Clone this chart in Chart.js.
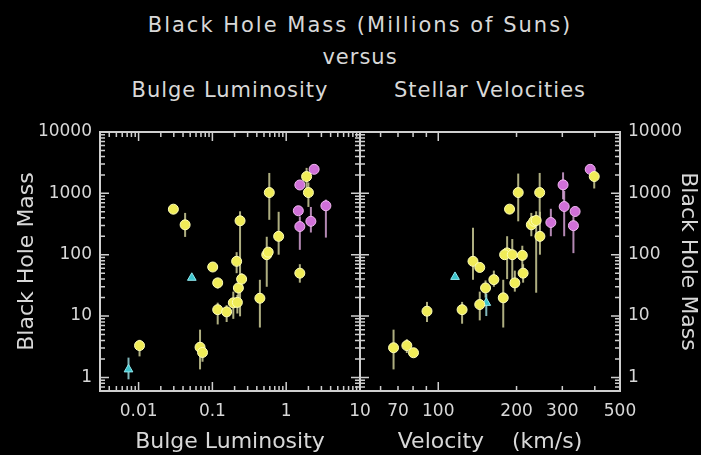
<!DOCTYPE html>
<html>
<head>
<meta charset="utf-8">
<title>Black Hole Mass versus Bulge Luminosity and Stellar Velocities</title>
<script src="https://cdn.jsdelivr.net/npm/chart.js@4.4.1/dist/chart.umd.min.js"></script>
<style>
  html, body { margin: 0; padding: 0; background: #000; }
  #wrap {
    position: relative; width: 701px; height: 455px; overflow: hidden;
    font-family: "DejaVu Sans", sans-serif; color: #d8d8d8;
  }
  #wrap canvas { position: absolute; left: 0; top: 0; }
  .label {
    position: absolute; white-space: nowrap; transform: translate(-50%, -50%);
    font-size: 21px; letter-spacing: 1px;
  }
  .label.main { letter-spacing: 2px; }
</style>
</head>
<body>
<div id="wrap">
  <div class="label main" style="left:360px; top:25px;">Black Hole Mass (Millions of Suns)</div>
  <div class="label" style="left:360px; top:57px;">versus</div>
  <div class="label" style="left:230px; top:90px;">Bulge Luminosity</div>
  <div class="label" style="left:490px; top:90px;">Stellar Velocities</div>
  <canvas id="lumChart" width="701" height="455"></canvas>
  <canvas id="velChart" width="701" height="455"></canvas>
</div>
<script>
// ---- left panel: bulge luminosity ----
const lumYellowX    = [0.0103, 0.0296, 0.0427, 0.068, 0.0735, 0.101, 0.118, 0.118, 0.156, 0.192, 0.218, 0.213, 0.225, 0.249, 0.237, 0.44, 0.545, 0.57, 0.59, 0.79, 1.89, 2.0, 1.53];
const lumYellowMass = [3.3, 552, 307, 3.1, 2.55, 63, 34.7, 12.7, 11.7, 16.4, 16.7, 78, 28.7, 40, 357, 19.5, 100, 110, 1030, 199, 1880, 1030, 50];
const lumYellowLow  = [2.2, null, 195, 1.35, 1.8, null, 28, 7.3, 8, 9, 11, 50, 20, 32, 9.9, 6.5, 30, null, 370, 100, 1200, 600, 35];
const lumYellowHigh = [4.1, null, 480, 6, 3.5, null, 42, 16.5, 15, 25, 22, 110, 35, 50, 510, 39, 196, null, 2150, 500, 2600, 1500, 70];

const lumMagentaX    = [1.53, 2.39, 1.46, 1.53, 2.16, 3.45];
const lumMagentaMass = [1370, 2466, 520, 288, 350, 627];
const lumMagentaLow  = [null, null, null, 120, 230, 190];
const lumMagentaHigh = [null, null, null, 420, 600, 790];

const lumCyanX    = [0.0073, 0.0526];
const lumCyanMass = [1.35, 42];
const lumCyanLow  = [0.93, null];
const lumCyanHigh = [2.1, null];

// ---- right panel: stellar velocity (km/s) ----
const velYellowX    = [67.3, 75.7, 80.3, 90.5, 123.5, 136, 144.4, 152, 144.4, 163.6, 177.8, 184, 180, 192.6, 188, 197, 203, 210.5, 212, 228, 233, 238, 245.5, 246, 398];
const velYellowMass = [3.04, 3.3, 2.52, 12, 12.7, 78, 62, 28.7, 15.4, 39.2, 19.8, 107, 100, 100, 553, 34.7, 1030, 97.5, 50, 307, 350, 361, 1030, 199, 1880];
const velYellowLow  = [1.35, 2.5, null, 8, 7.5, 39, null, 20, 8.5, 30, 6.5, 40, null, 30, null, 25, 350, 60, 35, 200, null, 24, 370, 100, 1200];
const velYellowHigh = [6, 4.2, null, 17, 17, 275, null, 38, 25, 55, 39, 200, null, 180, null, 55, 2100, 140, 70, 480, null, 510, 2150, 500, 2600];

const velMagentaX    = [271, 302, 305, 336, 331, 384];
const velMagentaMass = [335, 1375, 610, 506, 297, 2466];
const velMagentaLow  = [200, 800, 200, null, 106, null];
const velMagentaHigh = [560, 2200, 1100, null, 420, null];

const velCyanX    = [116, 153];
const velCyanMass = [43.4, 16.4];
const velCyanLow  = [null, 10];
const velCyanHigh = [null, 23];

// ---- axes ----
const massTicks = [1, 10, 100, 1000, 10000];
const massTickLabels = ["1", "10", "100", "1000", "10000"];
const lumTicks = [0.01, 0.1, 1, 10];
const lumTickLabels = ["0.01", "0.1", "1", "10"];
const velTicks = [70, 100, 200, 300, 500];
const velTickLabels = ["70", "100", "200", "300", "500"];

const textColor = "#d8d8d8";
const fontFamily = "'DejaVu Sans', sans-serif";

function toPoints(xs, ys) {
  return xs.map((x, i) => ({ x: x, y: ys[i] }));
}

function logSteps(min, max) {
  const out = [];
  const lo = Math.floor(Math.log10(min));
  const hi = Math.ceil(Math.log10(max));
  for (let e = lo; e <= hi; e++) {
    for (let m = 1; m <= 9; m++) {
      const v = m * Math.pow(10, e);
      if (v >= min * 0.999 && v <= max * 1.001) out.push({ v: v, major: m === 1 });
    }
  }
  return out;
}

// box round the plot area with inward ticks on all four sides
const frameTicks = {
  id: "frameTicks",
  beforeDatasetsDraw(chart) {
    const { ctx, chartArea: a, scales } = chart;
    const xs = scales.x, ys = scales.y;
    ctx.save();
    ctx.strokeStyle = "#cfcfcf";
    ctx.lineWidth = 2;
    ctx.strokeRect(a.left, a.top, a.right - a.left, a.bottom - a.top);
    ctx.lineWidth = 1.5;
    ctx.beginPath();
    logSteps(xs.min, xs.max).forEach((t) => {
      const px = xs.getPixelForValue(t.v);
      const len = t.major ? 9 : 5;
      ctx.moveTo(px, a.bottom); ctx.lineTo(px, a.bottom - len);
      ctx.moveTo(px, a.top); ctx.lineTo(px, a.top + len);
    });
    logSteps(ys.min, ys.max).forEach((t) => {
      const py = ys.getPixelForValue(t.v);
      const len = t.major ? 9 : 5;
      ctx.moveTo(a.left, py); ctx.lineTo(a.left + len, py);
      ctx.moveTo(a.right, py); ctx.lineTo(a.right - len, py);
    });
    ctx.stroke();
    ctx.restore();
  }
};

// vertical error bars, read from dataset.errLow / dataset.errHigh
const errorBars = {
  id: "errorBars",
  beforeDatasetsDraw(chart) {
    const { ctx, scales } = chart;
    ctx.save();
    ctx.lineWidth = 2;
    chart.data.datasets.forEach((ds, i) => {
      if (!ds.errLow) return;
      const meta = chart.getDatasetMeta(i);
      ctx.strokeStyle = ds.errColor;
      ds.errLow.forEach((lo, j) => {
        const hi = ds.errHigh[j];
        if (lo == null || hi == null) return;
        const px = meta.data[j].x;
        ctx.beginPath();
        ctx.moveTo(px, scales.y.getPixelForValue(lo));
        ctx.lineTo(px, scales.y.getPixelForValue(hi));
        ctx.stroke();
      });
    });
    ctx.restore();
  }
};

function series(xs, ys, lo, hi, kind) {
  const looks = {
    yellow: { fill: "#f0ec58", border: "#ffffb8", err: "rgba(205,205,150,0.85)", style: "circle", r: 5 },
    magenta: { fill: "#d070d8", border: "#f0b8f0", err: "rgba(210,160,210,0.85)", style: "circle", r: 5 },
    cyan: { fill: "#3cc4cc", border: "#90e8ee", err: "rgba(150,215,220,0.85)", style: "triangle", r: 5 }
  }[kind];
  return {
    data: toPoints(xs, ys),
    errLow: lo,
    errHigh: hi,
    errColor: looks.err,
    backgroundColor: looks.fill,
    borderColor: looks.border,
    borderWidth: 1,
    pointStyle: looks.style,
    pointRadius: looks.r
  };
}

function makePanel(canvasId, datasets, xOpts, yOpts, padding) {
  const tickFont = { family: fontFamily, size: 17 };
  const titleFont = { family: fontFamily, size: 22 };
  return new Chart(document.getElementById(canvasId), {
    type: "scatter",
    data: { datasets: datasets },
    options: {
      responsive: false,
      animation: false,
      events: [],
      layout: { padding: padding },
      plugins: { legend: { display: false }, tooltip: { enabled: false } },
      scales: {
        x: {
          type: "logarithmic",
          position: "bottom",
          min: xOpts.min,
          max: xOpts.max,
          grid: { display: false, drawTicks: false },
          border: { display: false },
          afterBuildTicks: (s) => { s.ticks = xOpts.ticks.map((v) => ({ value: v })); },
          afterFit: (s) => { s.height = 64; },
          ticks: {
            color: textColor, font: tickFont, padding: 10,
            maxRotation: 0, autoSkip: false,
            callback: (v, i) => xOpts.labels[i]
          },
          title: {
            display: true, text: xOpts.title, color: textColor,
            font: titleFont, padding: { top: 0, bottom: 0 }
          }
        },
        y: {
          type: "logarithmic",
          position: yOpts.position,
          min: 0.6,
          max: 10000,
          grid: { display: false, drawTicks: false },
          border: { display: false },
          afterBuildTicks: (s) => { s.ticks = massTicks.map((v) => ({ value: v })); },
          afterFit: (s) => { s.width = yOpts.width; },
          ticks: {
            color: textColor, font: tickFont, padding: 8, autoSkip: false,
            callback: (v, i) => massTickLabels[i]
          },
          title: {
            display: true, text: "Black Hole Mass", color: textColor,
            font: titleFont, padding: { top: yOpts.titlePad, bottom: 0 }
          }
        }
      }
    },
    plugins: [frameTicks, errorBars]
  });
}

makePanel(
  "lumChart",
  [
    series(lumYellowX, lumYellowMass, lumYellowLow, lumYellowHigh, "yellow"),
    series(lumMagentaX, lumMagentaMass, lumMagentaLow, lumMagentaHigh, "magenta"),
    series(lumCyanX, lumCyanMass, lumCyanLow, lumCyanHigh, "cyan")
  ],
  { min: 0.003, max: 10, ticks: lumTicks, labels: lumTickLabels, title: "Bulge Luminosity" },
  { position: "left", width: 100, titlePad: 14 },
  { top: 132, right: 341, bottom: 0, left: 0 }
);

makePanel(
  "velChart",
  [
    series(velYellowX, velYellowMass, velYellowLow, velYellowHigh, "yellow"),
    series(velMagentaX, velMagentaMass, velMagentaLow, velMagentaHigh, "magenta"),
    series(velCyanX, velCyanMass, velCyanLow, velCyanHigh, "cyan")
  ],
  { min: 50, max: 500, ticks: velTicks, labels: velTickLabels, title: "Velocity    (km/s)" },
  { position: "right", width: 81, titlePad: 0 },
  { top: 132, right: 0, bottom: 0, left: 360 }
);
</script>
</body>
</html>
